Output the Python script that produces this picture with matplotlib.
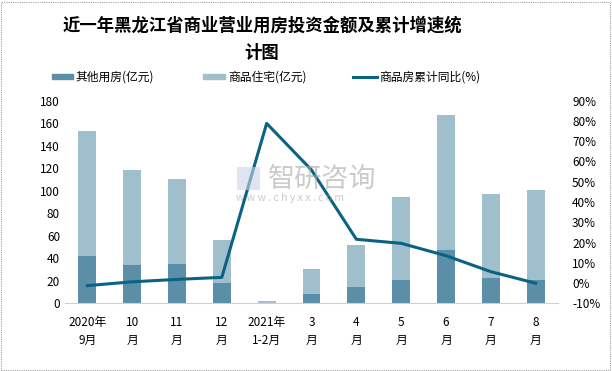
import matplotlib.pyplot as plt
from matplotlib.patches import Rectangle
from matplotlib.ticker import FuncFormatter

plt.rcParams['font.family'] = ['Noto Sans CJK SC', 'DejaVu Sans']

months = ["2020年\n9月", "10\n月", "11\n月", "12\n月", "2021年\n1-2月",
          "3\n月", "4\n月", "5\n月", "6\n月", "7\n月", "8\n月"]
other = [42, 34, 35, 18, 0.3, 8.3, 14.5, 20.7, 47.4, 22.5, 20.7]
residential = [111, 84.4, 75.4, 38.2, 1.7, 22.2, 37.3, 73.7, 119.9, 74.6, 80.0]
growth = [-1.3, 0.6, 1.8, 2.8, 78.8, 55.8, 21.6, 19.6, 13.5, 5.6, -0.1]
legend_labels = ["其他用房(亿元)", "商品住宅(亿元)", "商品房累计同比(%)"]

c_dark = "#5b8fa8"
c_light = "#a0bfcc"
c_line = "#0b6384"

W, H = 612, 371
fig = plt.figure(figsize=(W / 100, H / 100), dpi=100)
ax = fig.add_axes([0.106, 0.1825, 0.806, 0.546])
x = list(range(len(months)))
ax.bar(x, other, width=0.4, color=c_dark, zorder=2)
ax.bar(x, residential, width=0.4, bottom=other, color=c_light, zorder=2)
ax.set_xlim(-0.5, 10.5)
ax.set_ylim(0, 180)
ax.set_yticks(range(0, 181, 20))
ax.set_xticks(x)
ax.set_xticklabels(months, fontsize=8.5, linespacing=1.55)
ax.tick_params(axis='both', length=0, labelsize=8.5)
ax.tick_params(axis='x', pad=9)
for s in ['top', 'right', 'left']:
    ax.spines[s].set_visible(False)
ax.spines['bottom'].set_color('#d0d0d0')

ax2 = ax.twinx()
ax2.plot(x, growth, color=c_line, linewidth=2.2, zorder=3)
ax2.set_ylim(-10, 90)
ax2.set_yticks(range(-10, 91, 10))
ax2.yaxis.set_major_formatter(FuncFormatter(lambda v, p: f"{v:.0f}%"))
ax2.tick_params(axis='y', length=0, labelsize=8.5, pad=10)
for s in ['top', 'right', 'left', 'bottom']:
    ax2.spines[s].set_visible(False)

# watermark
fig.text(268 / W, 1 - 179 / H, "智研咨询", fontsize=19.5, color='#a8a8a8', alpha=0.6,
         ha='left', va='center')
fig.text(236 / W, 1 - 198 / H, "w w w . c h y x x . c o m", fontsize=7.5,
         color='#a8a8a8', alpha=0.6, ha='left', va='center')
fig.patches.append(Rectangle((237 / W, 1 - 190 / H), 23 / W, 23 / H,
                             transform=fig.transFigure, facecolor='#c8d3e6',
                             alpha=0.6, edgecolor='none'))

fig.text(0.428, 0.93, "近一年黑龙江省商业营业用房投资金额及累计增速统", fontsize=12.5,
         fontweight='bold', ha='center', va='center')
fig.text(0.428, 0.857, "计图", fontsize=12.5, fontweight='bold', ha='center', va='center')

# legend drawn by hand to match spacing
ly = 1 - 76.7 / H
fig.patches.append(Rectangle((52 / W, ly - 2.6 / H), 20.5 / W, 5.2 / H,
                             transform=fig.transFigure, color=c_dark))
fig.patches.append(Rectangle((203 / W, ly - 2.6 / H), 22 / W, 5.2 / H,
                             transform=fig.transFigure, color=c_light))
fig.lines.append(plt.Line2D([353 / W, 377 / W], [ly, ly], transform=fig.transFigure,
                            color=c_line, linewidth=2.2))
for tx, lab in zip([75, 228, 379], legend_labels):
    fig.text(tx / W, ly, lab, fontsize=8.5, ha='left', va='center')

fig.patches.append(Rectangle((0.002, 0.003), 0.994, 0.992, transform=fig.transFigure,
                             fill=False, edgecolor='#a0a0a0', linestyle=(0, (1, 1)),
                             linewidth=0.8))

fig.savefig("out.png", dpi=100)
